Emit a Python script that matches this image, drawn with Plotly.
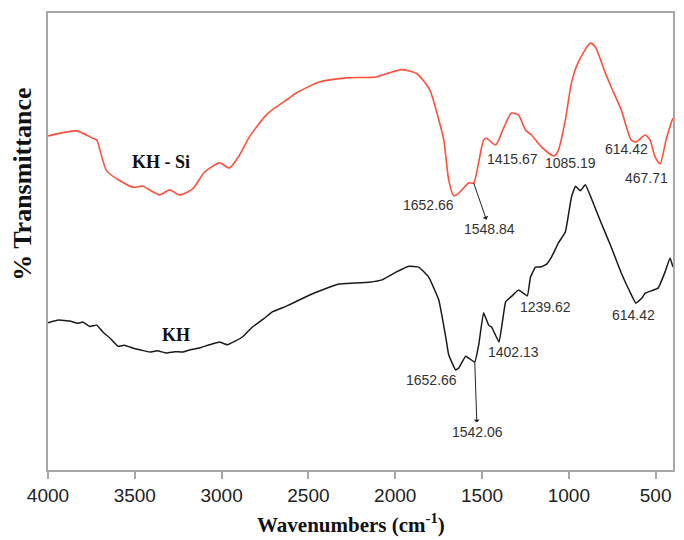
import plotly.graph_objects as go

# KH-Si (red) spectrum: wavenumber (cm-1) and transmittance (arb. %)
kh_si_wn = [4000, 3835, 3742, 3719, 3661, 3512, 3455, 3357, 3300, 3242, 3167, 3098, 3012, 2955,
            2897, 2840, 2743, 2708, 2610, 2570, 2438, 2283, 2111, 2036, 1962, 1875, 1801, 1749,
            1720, 1692, 1663, 1634, 1577, 1548, 1520, 1491, 1474, 1422, 1376, 1330, 1290, 1250,
            1215, 1158, 1085, 1060, 1020, 985, 945, 876, 848, 790, 756, 698, 641, 612, 560, 532,
            503, 474, 440, 411, 400]
kh_si_t = [73.1, 74.2, 72.6, 72.2, 65.4, 61.9, 62.1, 60.2, 61.3, 60.2, 61.5, 65.2, 67.2, 66.1,
           68.9, 72.9, 77.7, 78.8, 81.4, 82.5, 84.9, 85.8, 86.0, 86.9, 87.6, 86.7, 83.2, 76.6,
           72.2, 63.5, 60.0, 60.6, 62.8, 62.8, 67.2, 72.2, 72.6, 71.1, 74.8, 78.1, 77.7, 74.4,
           73.3, 70.7, 68.7, 70.0, 76.6, 84.7, 89.3, 93.4, 92.6, 86.9, 83.8, 78.8, 72.2, 71.8,
           73.3, 72.2, 68.5, 67.0, 72.2, 75.9, 77.0]

# KH (black) spectrum
kh_wn = [4000, 3940, 3874, 3830, 3799, 3760, 3719, 3684, 3644, 3598, 3560, 3512, 3460, 3414,
         3370, 3317, 3270, 3225, 3180, 3127, 3070, 3012, 2966, 2880, 2823, 2760, 2708, 2630,
         2553, 2480, 2421, 2323, 2240, 2151, 2076, 1996, 1921, 1864, 1807, 1749, 1709, 1692,
         1652, 1634, 1594, 1542, 1519, 1491, 1462, 1445, 1402, 1364, 1330, 1290, 1239, 1221,
         1192, 1163, 1130, 1100, 1060, 1020, 985, 962, 934, 905, 871, 813, 756, 698, 647, 614,
         580, 560, 486, 446, 417, 400]
kh_t = [32.2, 32.8, 32.6, 32.1, 32.4, 31.4, 31.7, 30.2, 28.9, 27.1, 27.3, 26.7, 26.2, 25.8,
        26.1, 25.6, 25.9, 25.8, 26.3, 26.7, 27.4, 28.0, 27.4, 29.1, 31.3, 33.0, 34.6, 35.8,
        37.2, 38.5, 39.4, 40.7, 40.9, 41.1, 41.6, 43.3, 44.6, 44.4, 42.2, 37.2, 29.1, 25.2,
        21.9, 22.3, 24.9, 23.6, 27.4, 34.4, 31.7, 31.3, 28.0, 36.8, 38.0, 39.4, 38.1, 42.2,
        44.4, 44.4, 45.0, 46.6, 49.7, 52.1, 59.7, 62.1, 61.1, 62.4, 59.5, 54.0, 48.8, 43.1,
        38.9, 36.5, 37.6, 38.7, 39.8, 43.3, 46.4, 44.4]

x_ticks = [4000, 3500, 3000, 2500, 2000, 1500, 1000, 500]

# plain peak labels: (text, wavenumber, transmittance)
red_labels = [("1652.66", 1807, 58.0), ("1415.67", 1324, 68.1),
              ("1085.19", 991, 67.2), ("614.42", 670, 70.2), ("467.71", 555, 63.9)]
black_labels = [("1652.66", 1789, 19.7), ("1402.13", 1318, 25.8),
                ("1239.62", 1135, 35.7), ("614.42", 629, 33.9)]
# labels with arrows: (text, label wn, label t, peak wn, peak t)
arrow_labels = [("1548.84", 1456, 52.7, 1548, 62.8), ("1542.06", 1528, 8.3, 1542, 23.7)]

SERIF = "Liberation Serif, Times New Roman, serif"
SANS = "Arial, Liberation Sans, sans-serif"

fig = go.Figure()
fig.add_trace(go.Scatter(x=kh_si_wn, y=kh_si_t, mode="lines",
                         line=dict(color="rgb(255,80,60)", width=1.6, shape="spline", smoothing=0.6),
                         showlegend=False, hoverinfo="skip"))
fig.add_trace(go.Scatter(x=kh_wn, y=kh_t, mode="lines",
                         line=dict(color="#1a1a1a", width=1.5, shape="spline", smoothing=0.3),
                         showlegend=False, hoverinfo="skip"))

ann = []
for t, x, y in red_labels + black_labels:
    ann.append(dict(x=x, y=y, text=t, showarrow=False,
                    font=dict(family=SANS, size=14, color="#333333")))
for t, lx, ly, px, py in arrow_labels:
    ann.append(dict(x=px, y=py, ax=lx, ay=ly, axref="x", ayref="y", xref="x", yref="y",
                    text=t, showarrow=True, arrowside="start", arrowhead=2, arrowsize=1,
                    arrowwidth=1, arrowcolor="#222222", standoff=0, startstandoff=0,
                    font=dict(family=SANS, size=14, color="#333333")))
ann.append(dict(x=3351, y=67.4, text="<b>KH - Si</b>", showarrow=False,
                font=dict(family=SERIF, size=18, color="#111111")))
ann.append(dict(x=3265, y=29.5, text="<b>KH</b>", showarrow=False,
                font=dict(family=SERIF, size=18, color="#111111")))
# axis titles
ann.append(dict(xref="paper", yref="paper", x=0.485, y=-0.118, xanchor="center",
                yanchor="middle", showarrow=False,
                text="<b>Wavenumbers (cm<sup>-1</sup>)</b>",
                font=dict(family=SERIF, size=21, color="#111111")))
ann.append(dict(xref="paper", yref="paper", x=-0.04, y=0.624, xanchor="center",
                yanchor="middle", showarrow=False, textangle=-90,
                text="<b>% Transmittance</b>",
                font=dict(family=SERIF, size=26, color="#111111")))

fig.update_layout(
    width=684, height=540,
    margin=dict(l=48, r=9, t=13, b=70),
    paper_bgcolor="white", plot_bgcolor="white",
    annotations=ann,
    xaxis=dict(range=[4000, 400], tickvals=x_ticks, ticktext=[str(v) for v in x_ticks],
               showgrid=False, zeroline=False, showline=True, mirror=True,
               linecolor="#a8a8a8", linewidth=1.5, ticks="outside", ticklen=7,
               tickcolor="#a8a8a8", tickwidth=1.5,
               tickfont=dict(family=SANS, size=19, color="#222222")),
    yaxis=dict(range=[0, 100], showticklabels=False, ticks="", showgrid=False, zeroline=False,
               showline=True, mirror=True, linecolor="#a8a8a8", linewidth=1.5),
)

fig.write_html("out.html")
